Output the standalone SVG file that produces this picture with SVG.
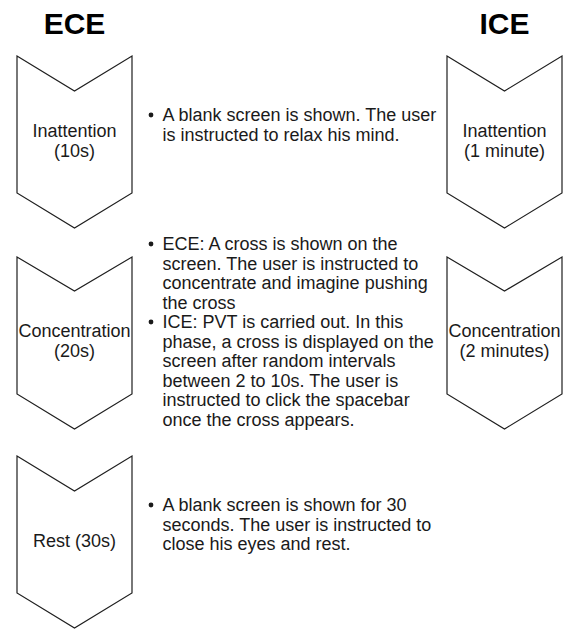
<svg xmlns="http://www.w3.org/2000/svg" width="566" height="631" viewBox="0 0 566 631">
<style>
.chev{fill:#fff;stroke:#1f1f1f;stroke-width:1.2;stroke-linejoin:miter}
.lbl{font-family:"Liberation Sans",Arial,sans-serif;font-size:18px;fill:#1a1a1a;text-anchor:middle}
.body{font-family:"Liberation Sans",Arial,sans-serif;font-size:18px;fill:#1a1a1a}
.title{font-family:"Liberation Sans",Arial,sans-serif;font-size:30px;font-weight:bold;fill:#000;text-anchor:middle}
.dot{fill:#1a1a1a}
</style>
<rect width="566" height="631" fill="#fff"/>
<g id="titles">
<text class="title" x="74.5" y="34">ECE</text>
<text class="title" x="504.5" y="34">ICE</text>
</g>
<g id="ece-inattention">
<polygon class="chev" points="17,56 74.5,91 132,56 132,193 74.5,228 17,193"/>
<text class="lbl" x="74.5" y="137">Inattention</text>
<text class="lbl" x="74.5" y="157">(10s)</text>
</g>
<g id="ece-concentration">
<polygon class="chev" points="17,257 74.5,291 132,257 132,394 74.5,429 17,394"/>
<text class="lbl" x="74.5" y="337">Concentration</text>
<text class="lbl" x="74.5" y="357">(20s)</text>
</g>
<g id="ece-rest">
<polygon class="chev" points="17,456 74.5,491 132,456 132,593 74.5,628 17,593"/>
<text class="lbl" x="74.5" y="547">Rest (30s)</text>
</g>
<g id="ice-inattention">
<polygon class="chev" points="447,56 504.5,91 562,56 562,193 504.5,228 447,193"/>
<text class="lbl" x="504.5" y="137">Inattention</text>
<text class="lbl" x="504.5" y="157">(1 minute)</text>
</g>
<g id="ice-concentration">
<polygon class="chev" points="447,257 504.5,291 562,257 562,394 504.5,429 447,394"/>
<text class="lbl" x="504.5" y="337">Concentration</text>
<text class="lbl" x="504.5" y="357">(2 minutes)</text>
</g>
<g id="desc-inattention">
<circle class="dot" cx="151" cy="115" r="2.4"/>
<text class="body" x="162.5" y="121">A blank screen is shown. The user</text>
<text class="body" x="162.5" y="140.5">is instructed to relax his mind.</text>
</g>
<g id="desc-concentration">
<circle class="dot" cx="151" cy="244" r="2.4"/>
<text class="body" x="162.5" y="250">ECE: A cross is shown on the</text>
<text class="body" x="162.5" y="269.5">screen. The user is instructed to</text>
<text class="body" x="162.5" y="289">concentrate and imagine pushing</text>
<text class="body" x="162.5" y="308.5">the cross</text>
<circle class="dot" cx="151" cy="322" r="2.4"/>
<text class="body" x="162.5" y="328">ICE: PVT is carried out. In this</text>
<text class="body" x="162.5" y="347.5">phase, a cross is displayed on the</text>
<text class="body" x="162.5" y="367">screen after random intervals</text>
<text class="body" x="162.5" y="386.5">between 2 to 10s. The user is</text>
<text class="body" x="162.5" y="406">instructed to click the spacebar</text>
<text class="body" x="162.5" y="425.5">once the cross appears.</text>
</g>
<g id="desc-rest">
<circle class="dot" cx="151" cy="505" r="2.4"/>
<text class="body" x="162.5" y="511">A blank screen is shown for 30</text>
<text class="body" x="162.5" y="530.5">seconds. The user is instructed to</text>
<text class="body" x="162.5" y="550">close his eyes and rest.</text>
</g>
<g id="connectors"></g>
</svg>
